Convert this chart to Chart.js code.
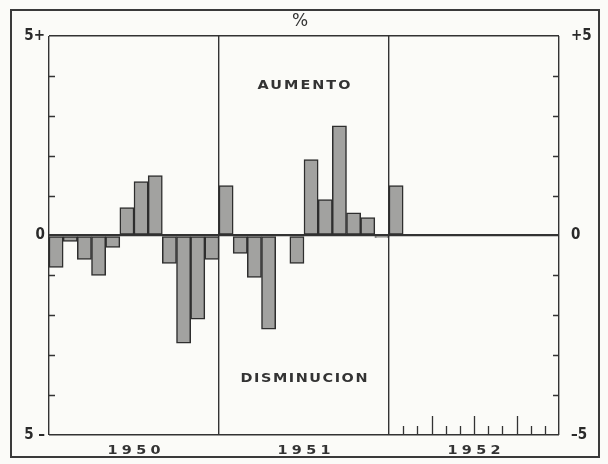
<!DOCTYPE html>
<html>
<head>
<meta charset="utf-8">
<script src="https://cdn.jsdelivr.net/npm/chart.js@4.4.1/dist/chart.umd.min.js"></script>
<style>
  html, body { margin: 0; padding: 0; background: #fbfbf8; }
  #wrap { position: relative; width: 608px; height: 464px; }
  #frame {
    position: absolute; left: 10px; top: 9px; width: 586px; height: 445px;
    border: 2px solid #3a3a3a; pointer-events: none;
  }
</style>
</head>
<body>
<div id="wrap">
  <canvas id="chart" width="608" height="464"></canvas>
  <div id="frame"></div>
</div>
<script>
// variación mensual (%)
const years = ["1950", "1951", "1952"];
const v1950 = [-0.8, -0.15, -0.6, -1.0, -0.3, 0.7, 1.35, 1.5, -0.7, -2.7, -2.1, -0.6];
const v1951 = [1.25, -0.45, -1.05, -2.35, 0, -0.7, 1.9, 0.9, 2.75, 0.57, 0.45, -0.05];
const v1952 = [1.25];
const leftTicks = { "5": "5+", "0": "0", "-5": "5 –" };
const rightTicks = { "5": "+5", "0": "0", "-5": "–5" };
const upLabel = "AUMENTO";
const downLabel = "DISMINUCION";
const unitLabel = "%";

const values = [...v1950, ...v1951, ...v1952];
const nMonths = years.length * 12;
const ink = "#333";
const clear = "rgba(0,0,0,0)";

// texto ensanchado (la letra del original es extendida)
function wideText(ctx, txt, x, y, font, spacing, sx) {
  ctx.save();
  ctx.translate(x + spacing * sx / 2, y);
  ctx.scale(sx, 1);
  ctx.font = font;
  ctx.fillStyle = ink;
  ctx.textAlign = "center";
  ctx.textBaseline = "middle";
  ctx.letterSpacing = spacing + "px";
  ctx.fillText(txt, 0, 0);
  ctx.restore();
}

// marcas interiores, textos y años
const decor = {
  id: "decor",
  afterDraw(chart) {
    const ctx = chart.ctx;
    const x = chart.scales.x, y = chart.scales.y;
    const a = chart.chartArea;
    ctx.save();
    ctx.strokeStyle = ink;
    ctx.lineWidth = 1.3;
    // ticks cortos en los ejes verticales
    for (let v = -4; v <= 4; v++) {
      if (v === 0) continue;
      const py = Math.round(y.getPixelForValue(v)) + 0.5;
      ctx.beginPath();
      ctx.moveTo(a.left, py); ctx.lineTo(a.left + 6, py);
      ctx.moveTo(a.right - 6, py); ctx.lineTo(a.right, py);
      ctx.stroke();
    }
    // meses del último año
    for (let m = 25; m < nMonths; m++) {
      const px = Math.round(x.getPixelForValue(m)) + 0.5;
      const len = m % 3 === 0 ? 19 : 9;
      ctx.beginPath();
      ctx.moveTo(px, a.bottom); ctx.lineTo(px, a.bottom - len);
      ctx.stroke();
    }
    ctx.restore();

    wideText(ctx, unitLabel, (a.left + a.right) / 2 - 4, 22, "17px 'DejaVu Sans'", 0, 1);
    wideText(ctx, upLabel, x.getPixelForValue(18), y.getPixelForValue(3.75), "bold 12px 'DejaVu Sans'", 1.7, 1.2);
    wideText(ctx, downLabel, x.getPixelForValue(18), y.getPixelForValue(-3.6), "bold 12px 'DejaVu Sans'", 1.3, 1.2);
    years.forEach((yr, i) => {
      wideText(ctx, yr, x.getPixelForValue(i * 12 + 6), 451, "bold 12px 'DejaVu Sans'", 3.6, 1.2);
    });
  }
};

const ctx = document.getElementById("chart").getContext("2d");
const chart = new Chart(ctx, {
  type: "bar",
  data: {
    datasets: [{
      data: values.map((v, i) => ({ x: i + 0.5, y: v })),
      backgroundColor: "#a2a2a0",
      borderColor: "#2e2e2e",
      borderWidth: 1.5,
      borderSkipped: false,
      barPercentage: 1,
      categoryPercentage: 1
    }]
  },
  options: {
    responsive: false,
    animation: false,
    layout: { padding: { top: 36, left: 0, right: 0, bottom: 0 } },
    plugins: { legend: { display: false }, tooltip: { enabled: false } },
    scales: {
      x: {
        type: "linear",
        min: 0,
        max: nMonths,
        offset: false,
        afterBuildTicks: s => { s.ticks = [0, 12, 24, 36].map(v => ({ value: v })); },
        afterFit: s => { s.height = 29; },
        ticks: { display: false },
        border: { display: false },
        grid: { offset: false, drawTicks: false, color: ink, lineWidth: 1.4 }
      },
      y: {
        min: -5,
        max: 5,
        afterFit: s => { s.width = 49; },
        ticks: {
          stepSize: 1,
          padding: 4,
          color: "#2a2a2a",
          font: { family: "'DejaVu Sans Condensed'", size: 15, weight: "bold" },
          callback: v => leftTicks[v] ?? ""
        },
        border: { display: false },
        grid: {
          drawTicks: false,
          color: c => (leftTicks[c.tick.value] ? ink : clear),
          lineWidth: c => (c.tick.value === 0 ? 2.2 : 1.5)
        }
      },
      y2: {
        position: "right",
        min: -5,
        max: 5,
        afterFit: s => { s.width = 49; },
        ticks: {
          stepSize: 1,
          padding: 4,
          color: "#2a2a2a",
          font: { family: "'DejaVu Sans Condensed'", size: 15, weight: "bold" },
          callback: v => rightTicks[v] ?? ""
        },
        border: { display: false },
        grid: { display: false }
      }
    }
  },
  plugins: [decor]
});
</script>
</body>
</html>
